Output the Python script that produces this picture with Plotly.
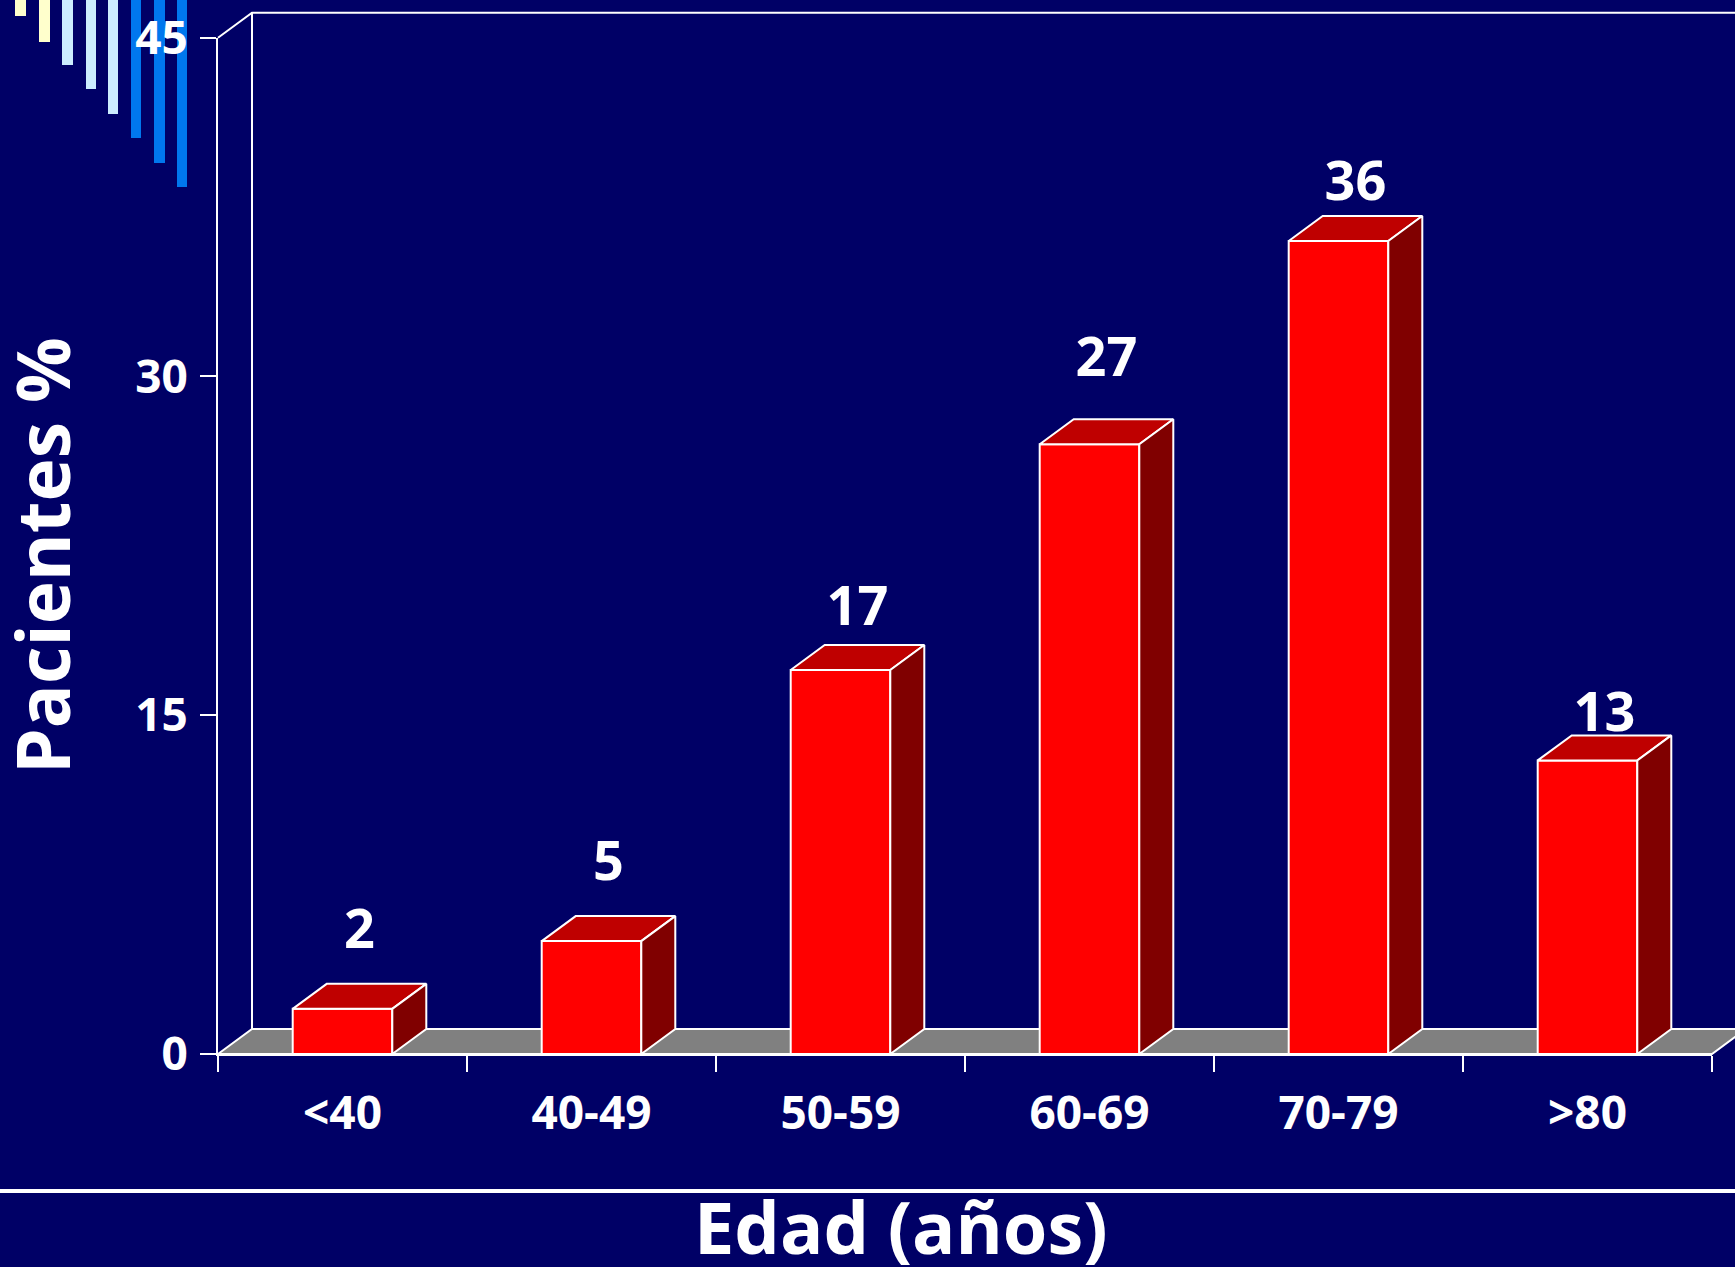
import plotly.graph_objects as go

# ---------------- data ----------------
categories = ["<40", "40-49", "50-59", "60-69", "70-79", ">80"]
values = [2, 5, 17, 27, 36, 13]
y_ticks = [0, 15, 30, 45]
y_title = "Pacientes %"
x_title = "Edad (años)"

# ---------------- styling / layout constants ----------------
W, H = 1735, 1267
BG = "#000066"
FONT = "Open Sans"
PX_X0 = 218          # pixel of left axis (x = -0.5)
PX_XEND = 1712       # pixel of right axis end (x = 5.5)
PX_Y0 = 1054         # pixel of y = 0
PX_YTOP = 37.7       # pixel of y = 45
Y_MAX = 45
DEPTH_PX_X, DEPTH_PX_Y = 34, 25
label_offsets = [3.3, 3.3, 2.6, 3.6, 2.4, 1.9]   # label placement above bars (data units)

n = len(categories)
ux = (PX_XEND - PX_X0) / n              # px per category
uy = (PX_Y0 - PX_YTOP) / Y_MAX          # px per y unit
DX = DEPTH_PX_X / ux
DY = DEPTH_PX_Y / uy
HALF = 0.2

x_rng = [-0.5 - PX_X0 / ux, -0.5 + (W - PX_X0) / ux]
y_rng = [-(H - PX_Y0) / uy, PX_Y0 / uy]

FRONT, TOP, SIDE = "#FF0000", "#BF0000", "#800000"
EDGE = dict(color="white", width=2)

fig = go.Figure()

def poly(xs, ys, color):
    fig.add_trace(go.Scatter(
        x=xs + [xs[0]], y=ys + [ys[0]], mode="lines", fill="toself",
        fillcolor=color, line=EDGE, hoverinfo="skip", showlegend=False,
        xaxis="x", yaxis="y"))

# floor
x_left, x_right = -0.5, n - 0.5
poly([x_left, x_left + DX, x_right + DX, x_right], [0, DY, DY, 0], "#808080")

# back wall lines
fig.add_trace(go.Scatter(
    x=[x_left, x_left + DX, x_rng[1] + 1], y=[Y_MAX, Y_MAX + DY, Y_MAX + DY],
    mode="lines", line=EDGE, hoverinfo="skip", showlegend=False))
fig.add_trace(go.Scatter(
    x=[x_left + DX, x_left + DX], y=[DY, Y_MAX + DY],
    mode="lines", line=EDGE, hoverinfo="skip", showlegend=False))

# 3D bars
for i, v in enumerate(values):
    a, b = i - HALF, i + HALF
    poly([a, b, b, a], [0, 0, v, v], FRONT)
    poly([a, b, b + DX, a + DX], [v, v, v + DY, v + DY], TOP)
    poly([b, b + DX, b + DX, b], [0, DY, v + DY, v], SIDE)

# value labels
fig.add_trace(go.Scatter(
    x=[i + DX / 2 for i in range(n)],
    y=[v + o for v, o in zip(values, label_offsets)],
    text=[str(v) for v in values], mode="text", textposition="middle center",
    textfont=dict(family=FONT, size=54, color="white", weight="bold"),
    hoverinfo="skip", showlegend=False, cliponaxis=False))

# invisible trace for the visible category / value axes
fig.add_trace(go.Scatter(
    x=categories, y=values, mode="markers", marker=dict(opacity=0),
    hoverinfo="skip", showlegend=False, xaxis="x2", yaxis="y2"))

tickfont = dict(family=FONT, size=46, color="white", weight="bold")

fig.update_layout(
    width=W, height=H, autosize=False,
    margin=dict(l=0, r=0, t=0, b=0, pad=0, autoexpand=False),
    paper_bgcolor=BG, plot_bgcolor="rgba(0,0,0,0)",
    xaxis=dict(domain=[0, 1], range=x_rng, visible=False, fixedrange=True,
               automargin=False),
    yaxis=dict(domain=[0, 1], range=y_rng, visible=False, fixedrange=True,
               automargin=False),
    xaxis2=dict(domain=[PX_X0 / W, PX_XEND / W], anchor="y2", type="category",
                categoryorder="array", categoryarray=categories,
                range=[-0.5, n - 0.5], tickson="boundaries", ticks="outside",
                ticklen=16, tickwidth=2, tickcolor="white", showline=True,
                linecolor="white", linewidth=2, showgrid=False, zeroline=False,
                tickfont=tickfont, ticklabelstandoff=18, automargin=False,
                fixedrange=True),
    yaxis2=dict(domain=[(H - PX_Y0) / H, (H - PX_YTOP) / H], anchor="x2",
                range=[0, Y_MAX], tickvals=y_ticks, ticks="outside",
                ticklen=16, tickwidth=2, tickcolor="white", showline=True,
                linecolor="white", linewidth=2, showgrid=False, zeroline=False,
                tickfont=tickfont, ticklabelstandoff=3, automargin=False,
                fixedrange=True),
    showlegend=False,
)

# titles
fig.add_annotation(text=y_title, xref="paper", yref="paper", x=41 / W,
                   y=1 - 556 / H, textangle=-90, showarrow=False,
                   xanchor="center", yanchor="middle",
                   font=dict(family=FONT, size=73, color="white", weight="bold"))
fig.add_annotation(text=x_title, xref="paper", yref="paper", x=901 / W,
                   y=1 - 1226 / H, showarrow=False,
                   xanchor="center", yanchor="middle",
                   font=dict(family=FONT, size=72, color="white", weight="bold"))

# separator line
fig.add_shape(type="line", xref="paper", yref="paper", x0=0, x1=1,
              y0=1 - 1191 / H, y1=1 - 1191 / H,
              line=dict(color="white", width=4))

# template decoration (slide design)
deco = [(15, 26, 16, "#FFFFCC"), (39, 50, 42, "#FFFFCC"),
        (62, 73, 65, "#CCECFF"), (86, 96, 89, "#CCECFF"), (108, 118, 114, "#CCECFF"),
        (131, 141, 138, "#0077EE"), (154, 165, 163, "#0077EE"), (177, 187, 187, "#0077EE")]
for x0, x1, yb, c in deco:
    fig.add_shape(type="rect", xref="paper", yref="paper", layer="below",
                  x0=x0 / W, x1=x1 / W, y0=1 - yb / H, y1=1,
                  fillcolor=c, line=dict(width=0))

page_fix = ("document.body.style.margin='0';"
            "document.body.style.background='" + BG + "';"
            "document.body.style.overflow='hidden';")

fig.write_html("out.html", post_script=page_fix,
               config={"displayModeBar": False, "staticPlot": True})
